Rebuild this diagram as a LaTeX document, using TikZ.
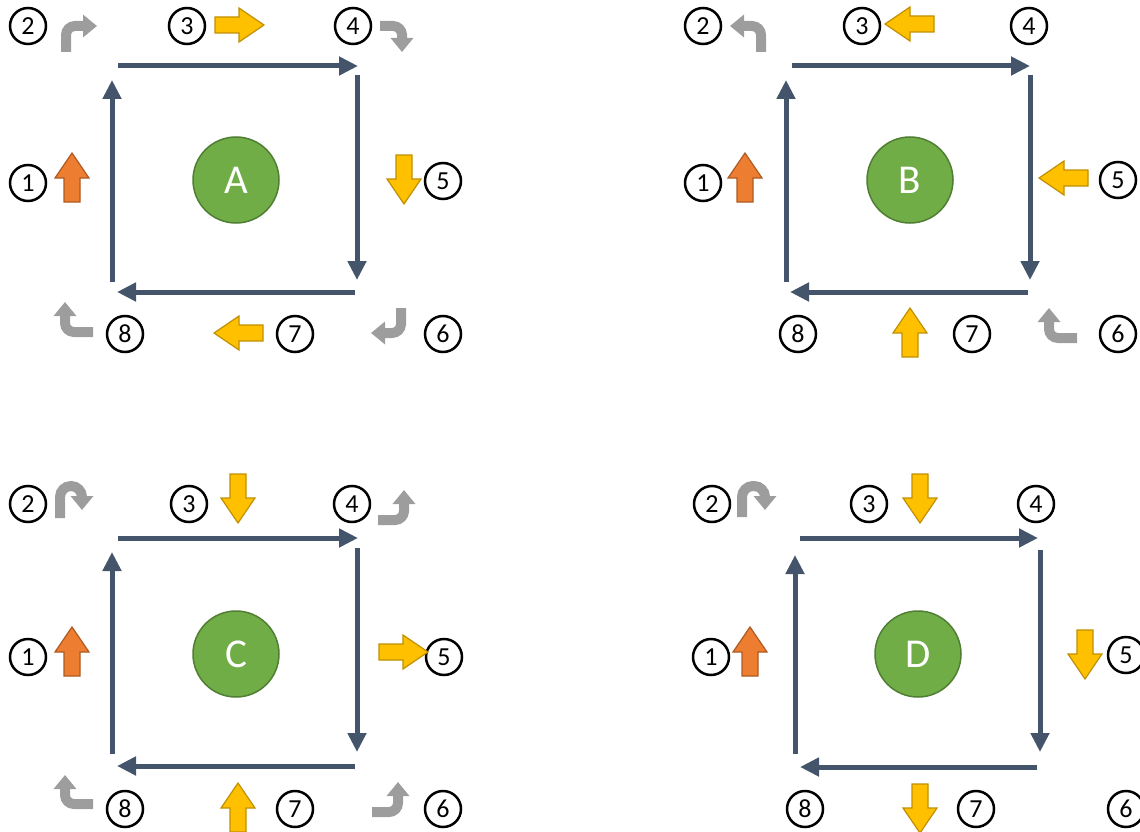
\documentclass[tikz,border=0pt]{standalone}
\usepackage{fontspec}
\setmainfont{Carlito}
\usetikzlibrary{arrows.meta}
\definecolor{slate}{HTML}{44546A}
\definecolor{hubgreen}{HTML}{70AD47}
\definecolor{hubedge}{HTML}{507E32}
\definecolor{yelfill}{HTML}{FFC000}
\definecolor{yeledge}{HTML}{BF9000}
\definecolor{orgfill}{HTML}{ED7D31}
\definecolor{orgedge}{HTML}{AE5A21}
\definecolor{turngray}{HTML}{9D9D9D}

\begin{document}
\begin{tikzpicture}[x=1pt,y=-1pt,
 flow/.style={draw=slate,line width=5pt,-{Triangle[length=19pt,width=18pt]}},
 hub/.style={circle,draw=hubedge,fill=hubgreen,line width=1.5pt,minimum size=86pt,text=white,font=\fontsize{41}{41}\selectfont},
 num/.style={circle,draw,line width=2.5pt,minimum size=36pt,inner sep=0pt,font=\fontsize{26}{26}\selectfont},
 turn/.style={draw=turngray,line width=10pt,rounded corners=9pt,-{Triangle[length=14pt,width=22pt]}},
 uturn/.style={turn,rounded corners=11pt},
 yel/.style={draw=yeledge,fill=yelfill,line width=1.2pt},
 org/.style={draw=orgedge,fill=orgfill,line width=1.2pt},
 pics/blk/.style={code={\path[#1] (-24,-8) -- (0,-8) -- (0,-17) -- (25,0) -- (0,17) -- (0,8) -- (-24,8) -- cycle;}}]
\clip (0,0) rectangle (1140,832);
% case A
\node[hub] (hA) at (236,180) {A};
\draw[flow] (118,66) -- (358,66);
\draw[flow] (357,75) -- (357,280);
\draw[flow] (355,292) -- (117,292);
\draw[flow] (112,282) -- (112,80);
\node[num] (a1) at (28,183) {1};
\node[num] (a2) at (28,26) {2};
\node[num] (a3) at (187,26) {3};
\node[num] (a4) at (353,26) {4};
\node[num] (a5) at (443,181) {5};
\node[num] (a6) at (443,334) {6};
\node[num] (a7) at (295,334) {7};
\node[num] (a8) at (125,334) {8};
\pic[rotate=90] at (72,178) {blk=org};
\draw[turn] (66,52) -- (66,26) -- (97,26);
\pic at (239,25) {blk=yel};
\draw[turn] (380,26) -- (402,26) -- (402,52);
\pic[rotate=-90] at (404,179) {blk=yel};
\draw[turn] (401,308) -- (401,333) -- (371,333);
\pic[rotate=180] at (239,333) {blk=yel};
\draw[turn] (93,332) -- (65,332) -- (65,302);
% case B
\node[hub] (hB) at (910,180) {B};
\draw[flow] (792,66) -- (1030,66);
\draw[flow] (1030,75) -- (1030,280);
\draw[flow] (1028,292) -- (790,292);
\draw[flow] (786,282) -- (786,80);
\node[num] (b1) at (703,183) {1};
\node[num] (b2) at (703,26) {2};
\node[num] (b3) at (862,26) {3};
\node[num] (b4) at (1029,26) {4};
\node[num] (b5) at (1118,180) {5};
\node[num] (b6) at (1118,334) {6};
\node[num] (b7) at (972,334) {7};
\node[num] (b8) at (798,334) {8};
\pic[rotate=90] at (745,178) {blk=org};
\draw[turn] (761,52) -- (761,26) -- (730,26);
\pic[rotate=180] at (910,24) {blk=yel};
\pic[rotate=180] at (1064,178) {blk=yel};
\draw[turn] (1077,338) -- (1049,338) -- (1049,308);
\pic[rotate=90] at (910,333) {blk=yel};
% case C
\node[hub] (hC) at (236,654) {C};
\draw[flow] (118,538) -- (358,538);
\draw[flow] (357,548) -- (357,752);
\draw[flow] (355,766) -- (117,766);
\draw[flow] (112,754) -- (112,552);
\node[num] (c1) at (28,657) {1};
\node[num] (c2) at (28,504) {2};
\node[num] (c3) at (189,504) {3};
\node[num] (c4) at (352,504) {4};
\node[num] (c5) at (444,657) {5};
\node[num] (c6) at (443,809) {6};
\node[num] (c7) at (295,809) {7};
\node[num] (c8) at (125,809) {8};
\pic[rotate=90] at (72,652) {blk=org};
\draw[uturn] (60,518) -- (60,486) -- (82,486) -- (82,510);
\pic[rotate=-90] at (238,498) {blk=yel};
\draw[turn] (378,520) -- (404,520) -- (404,490);
\pic at (403,652) {blk=yel};
\draw[turn] (372,812) -- (398,812) -- (398,782);
\pic[rotate=90] at (238,808) {blk=yel};
\draw[turn] (93,804) -- (65,804) -- (65,775);
% case D
\node[hub] (hD) at (918,654) {D};
\draw[flow] (800,538) -- (1038,538);
\draw[flow] (1040,550) -- (1040,752);
\draw[flow] (1037,767) -- (800,767);
\draw[flow] (795,754) -- (795,555);
\node[num] (d1) at (711,657) {1};
\node[num] (d2) at (712,504) {2};
\node[num] (d3) at (869,504) {3};
\node[num] (d4) at (1036,504) {4};
\node[num] (d5) at (1126,655) {5};
\node[num] (d6) at (1126,809) {6};
\node[num] (d7) at (976,809) {7};
\node[num] (d8) at (805,809) {8};
\pic[rotate=90] at (750,652) {blk=org};
\draw[uturn] (742,517) -- (742,486) -- (765,486) -- (765,510);
\pic[rotate=-90] at (920,498) {blk=yel};
\pic[rotate=-90] at (1085,654) {blk=yel};
\pic[rotate=-90] at (920,808) {blk=yel};
\end{tikzpicture}
\end{document}
